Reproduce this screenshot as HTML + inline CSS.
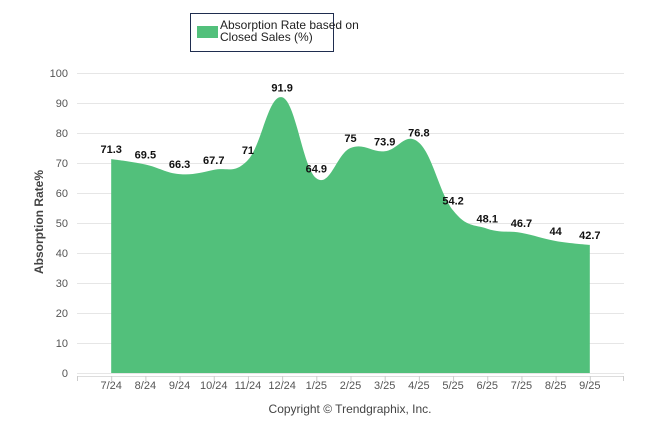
<!DOCTYPE html>
<html><head><meta charset="utf-8"><style>
body{margin:0;background:#fff;}
svg{display:block;font-family:"Liberation Sans",Arial,sans-serif;}
</style></head><body>
<svg id="chart" width="646" height="434">
  <g>
    <rect x="190.5" y="13.5" width="143" height="38" fill="#fff" stroke="#1f2d4f" stroke-width="1"/>
    <rect x="197" y="26" width="21" height="12" fill="#52c07b"/>
    <text x="220" y="29" font-size="12" fill="#222">Absorption Rate based on</text>
    <text x="220" y="41" font-size="12" fill="#222">Closed Sales (%)</text>
  </g>
  <g id="grid"></g>
  <g id="yticks"></g>
  <g id="series"></g>
  <g id="xticks"></g>
  <g id="labels"></g>
  <text transform="translate(43,222) rotate(-90)" text-anchor="middle" font-size="12" font-weight="bold" fill="#444">Absorption Rate%</text>
  <text x="350" y="413" text-anchor="middle" font-size="12" fill="#444">Copyright © Trendgraphix, Inc.</text>
</svg>
<script>
const categories=["7/24","8/24","9/24","10/24","11/24","12/24","1/25","2/25","3/25","4/25","5/25","6/25","7/25","8/25","9/25"];
const values=[71.3,69.5,66.3,67.7,71,91.9,64.9,75,73.9,76.8,54.2,48.1,46.7,44,42.7];
const yTicks=[0,10,20,30,40,50,60,70,80,90,100];
const NS="http://www.w3.org/2000/svg";
const X0=77,X1=624,Y0=373,Y1=73;
const step=(X1-X0)/(categories.length+1);
function xs(i){return X0+step*(i+1);}
function ys(v){return Y0-(v-0)/(100-0)*(Y0-Y1);}
function mk(tag,attrs,parent){const e=document.createElementNS(NS,tag);for(const k in attrs)e.setAttribute(k,attrs[k]);parent.appendChild(e);return e;}
const grid=document.getElementById('grid'),yt=document.getElementById('yticks'),xt=document.getElementById('xticks'),se=document.getElementById('series'),lb=document.getElementById('labels');
yTicks.forEach(t=>{
  const l=mk('line',{x1:X0,x2:X1,y1:ys(t)+0.5,y2:ys(t)+0.5,stroke:'#e6e6e6','stroke-width':1},grid);
  
  
  const tx=mk('text',{x:68,y:ys(t)+4,'text-anchor':'end','font-size':11,fill:'#555'},yt);
  tx.textContent=t;
  
  
});
const ax=mk('line',{x1:X0,x2:X1,y1:Y0+3.5,y2:Y0+3.5,stroke:'#ddd'},xt);


mk('line',{x1:X0+0.5,x2:X0+0.5,y1:Y0+3,y2:Y0+8,stroke:'#ccc'},xt);
mk('line',{x1:X1-0.5,x2:X1-0.5,y1:Y0+3,y2:Y0+8,stroke:'#ccc'},xt);
categories.forEach((c,i)=>{
  const x=xs(i);
  mk('line',{x1:x+0.5,x2:x+0.5,y1:Y0+3,y2:Y0+8,stroke:'#ccc'},xt);
  const t=mk('text',{x:x,y:Y0+16,'text-anchor':'middle','font-size':11,fill:'#555'},xt);
  t.textContent=c;
  
  
});
// spline path (Highcharts-like smoothing)
const pts=values.map((v,i)=>[xs(i),ys(v)]);
let d='M'+pts[0][0]+','+Y0+' L'+pts[0][0]+','+pts[0][1];
const sm=1.5;
for(let i=1;i<pts.length;i++){
  const p0=pts[i-2]||pts[i-1],p1=pts[i-1],p2=pts[i],p3=pts[i+1]||pts[i];
  const c1=ctrl(pts,i-1,true),c2=ctrl(pts,i,false);
  d+=' C'+c1[0]+','+c1[1]+' '+c2[0]+','+c2[1]+' '+p2[0]+','+p2[1];
}
function ctrl(p,i,right){
  const cur=p[i];const prev=p[i-1],next=p[i+1];
  if(!prev||!next)return cur;
  const lx=(sm*cur[0]+prev[0])/(sm+1),ly=(sm*cur[1]+prev[1])/(sm+1);
  const rx=(sm*cur[0]+next[0])/(sm+1),ry=(sm*cur[1]+next[1])/(sm+1);
  let corr=0;
  if(rx!==lx)corr=((ry-ly)*(rx-cur[0]))/(rx-lx)+cur[1]-ry;
  const nly=ly+corr,nry=ry+corr;
  return right?[rx,nry]:[lx,nly];
}
d+=' L'+pts[pts.length-1][0]+','+Y0+' Z';
const area=mk('path',{d:d,fill:'#52c07b'},se);


values.forEach((v,i)=>{
  const t=mk('text',{x:xs(i),y:ys(v)-6,'text-anchor':'middle','font-size':11,'font-weight':'bold',fill:'#111'},lb);
  t.textContent=v;
  
  
});
</script>
</body></html>
